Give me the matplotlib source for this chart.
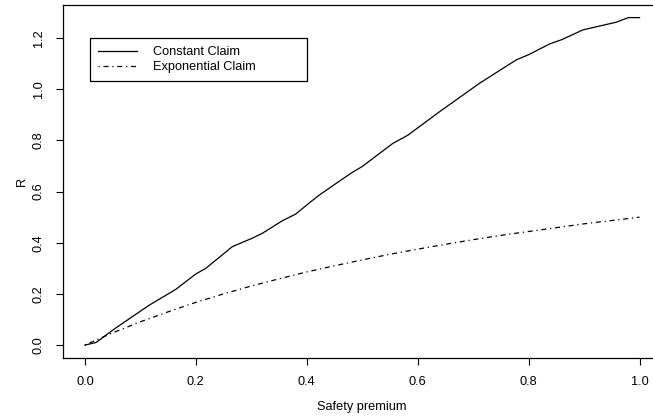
import matplotlib
matplotlib.use("Agg")
import matplotlib.pyplot as plt

plt.rcParams["font.family"] = ["Liberation Sans", "DejaVu Sans"]
plt.rcParams["font.size"] = 9.2

# adjustment coefficient R against the safety premium
premium_const = [0.0, 0.02, 0.055, 0.116, 0.164, 0.2, 0.218, 0.266, 0.302, 0.32,
                 0.356, 0.38, 0.41, 0.423, 0.453, 0.48, 0.5, 0.555, 0.582, 0.64,
                 0.712, 0.778, 0.8, 0.838, 0.86, 0.898, 0.958, 0.98, 1.0]
R_const = [0.0, 0.01, 0.066, 0.156, 0.218, 0.278, 0.3, 0.385, 0.418, 0.437,
           0.486, 0.512, 0.565, 0.587, 0.632, 0.672, 0.698, 0.788, 0.82, 0.913,
           1.024, 1.115, 1.135, 1.177, 1.194, 1.232, 1.262, 1.28, 1.28]

premium_exp = [0.0, 0.05, 0.1, 0.15, 0.2, 0.25, 0.3, 0.35, 0.4, 0.45, 0.5,
               0.55, 0.6, 0.65, 0.7, 0.75, 0.8, 0.85, 0.9, 0.95, 1.0]
R_exp = [0.0, 0.048, 0.091, 0.130, 0.167, 0.2, 0.231, 0.259, 0.286, 0.31, 0.333,
         0.355, 0.375, 0.394, 0.412, 0.429, 0.444, 0.459, 0.474, 0.487, 0.5]

x_ticks = [0.0, 0.2, 0.4, 0.6, 0.8, 1.0]
y_ticks = [0.0, 0.2, 0.4, 0.6, 0.8, 1.0, 1.2]

fig = plt.figure(figsize=(6.53, 4.2), dpi=100)
# R-style box, right edge falls just outside the canvas
ax = fig.add_axes([62.7 / 653, 61.8 / 420, 599 / 653, 353.7 / 420])

ax.plot(premium_const, R_const, color="black", lw=0.9, label="Constant Claim")
ax.plot(premium_exp, R_exp, color="black", lw=0.9, dashes=(1, 3, 4, 3),
        label="Exponential Claim")

ax.set_xlim(-0.04, 1.04)
ax.set_ylim(-0.0512, 1.3312)
ax.set_xticks(x_ticks)
ax.set_xticklabels([f"{t:.1f}" for t in x_ticks])
ax.set_yticks(y_ticks)
ax.set_yticklabels([f"{t:.1f}" for t in y_ticks], rotation=90, va="center")
ax.tick_params(direction="out", length=5, width=0.8, pad=8)
for s in ax.spines.values():
    s.set_linewidth(0.9)

ax.set_xlabel("Safety premium")
ax.set_ylabel("R")
ax.xaxis.set_label_coords(0.5, -0.122)
ax.yaxis.set_label_coords(-0.058, 0.5)

leg = ax.legend(loc="upper left", bbox_to_anchor=(0.0456, 0.9044, 0.362, 0.0),
                mode="expand", borderaxespad=0, fancybox=False, framealpha=1,
                edgecolor="black", handlelength=3.1, handletextpad=1.2,
                borderpad=0.6, labelspacing=0.25)
leg.get_frame().set_linewidth(0.9)

fig.savefig("out.png", dpi=100)
